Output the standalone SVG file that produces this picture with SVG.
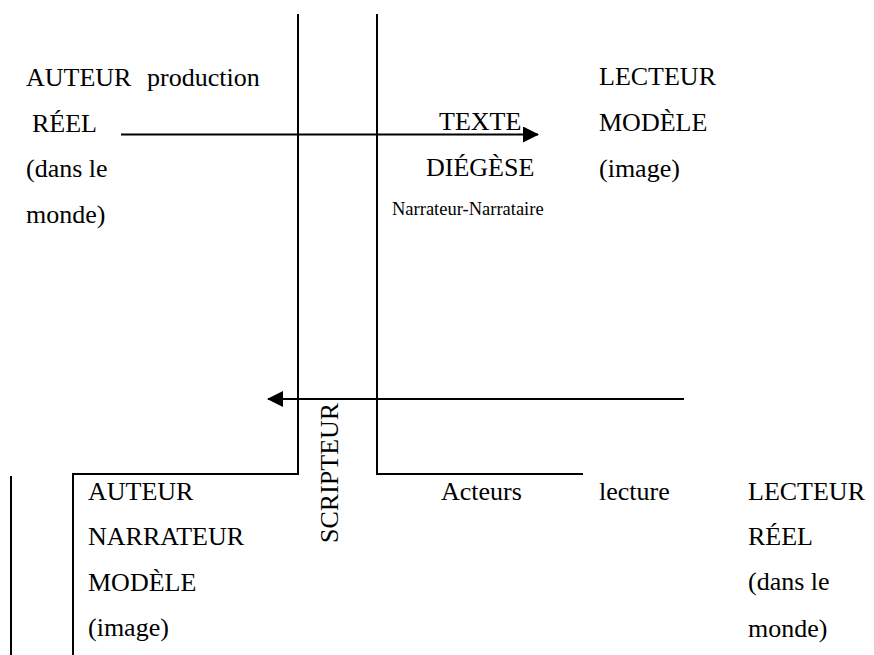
<svg xmlns="http://www.w3.org/2000/svg" width="874" height="655" viewBox="0 0 874 655">
<style>
  text { font-family: "Liberation Serif", "Times New Roman", serif; font-size: 26px; fill: #000; }
  .small { font-size: 18.5px; }
  .ln { stroke: #000; stroke-width: 2; fill: none; }
</style>
<defs>
  <marker id="arr" markerWidth="16" markerHeight="16" refX="15" refY="8" orient="auto" markerUnits="userSpaceOnUse">
    <path d="M0,0 L16,8 L0,16 Z" fill="#000"/>
  </marker>
</defs>
<rect width="874" height="655" fill="#fff"/>
<g id="connectors">
  <path class="ln" d="M298,14 V474 H73 V655"/>
  <path class="ln" d="M377,14 V474 H583"/>
  <path class="ln" d="M11,476 V655"/>
  <line class="ln" x1="121" y1="134.5" x2="538" y2="134.5" marker-end="url(#arr)"/>
  <line class="ln" x1="684" y1="399" x2="268" y2="399" marker-end="url(#arr)"/>
</g>
<g id="auteur-reel">
  <text x="26" y="86">AUTEUR</text>
  <text x="147" y="86">production</text>
  <text x="32" y="132">RÉEL</text>
  <text x="26" y="177">(dans le</text>
  <text x="26" y="223">monde)</text>
</g>
<g id="texte">
  <text x="439" y="130">TEXTE</text>
  <text x="426" y="176">DIÉGÈSE</text>
  <text class="small" x="392" y="215">Narrateur-Narrataire</text>
</g>
<g id="lecteur-modele">
  <text x="599" y="85">LECTEUR</text>
  <text x="599" y="131">MODÈLE</text>
  <text x="599" y="177">(image)</text>
</g>
<g id="scripteur">
  <text transform="translate(338,543) rotate(-90)">SCRIPTEUR</text>
</g>
<g id="auteur-modele">
  <text x="88" y="500">AUTEUR</text>
  <text x="88" y="545">NARRATEUR</text>
  <text x="88" y="591">MODÈLE</text>
  <text x="88" y="636">(image)</text>
</g>
<g id="acteurs">
  <text x="441" y="500">Acteurs</text>
</g>
<g id="lecture">
  <text x="599" y="500">lecture</text>
</g>
<g id="lecteur-reel">
  <text x="748" y="500">LECTEUR</text>
  <text x="748" y="545">RÉEL</text>
  <text x="748" y="590">(dans le</text>
  <text x="748" y="637">monde)</text>
</g>
</svg>
